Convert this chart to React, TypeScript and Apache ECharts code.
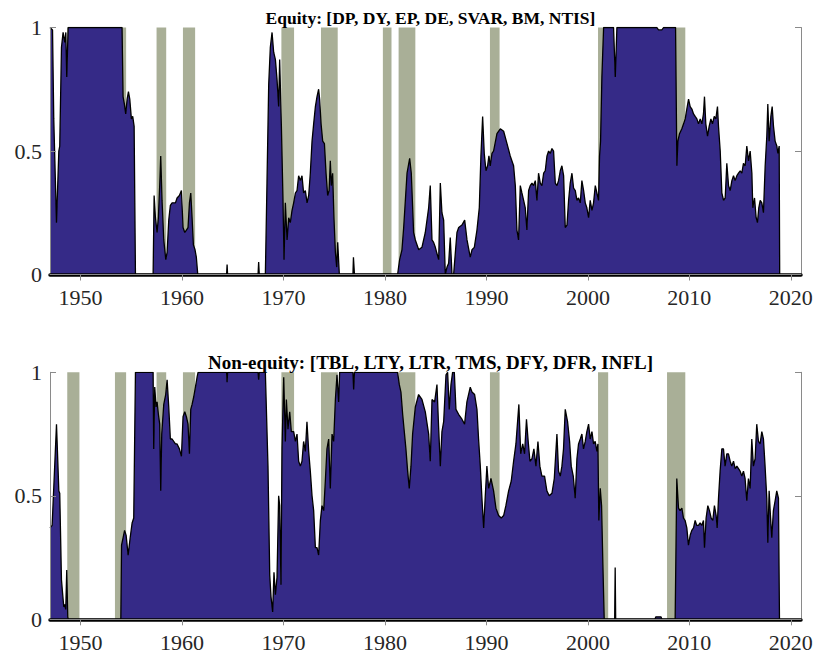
import React, { useEffect, useRef } from "react";
import * as echarts from "echarts";

// Share of predictors selected over time, equity vs non-equity groups
const equityShare: [number, number][] = [
  [1947.0, 1.0], [1947.25, 0.99], [1947.37, 0.63], [1947.64, 0.21], [1947.87, 0.5], [1947.96, 0.52],
  [1948.13, 0.92], [1948.29, 0.98], [1948.46, 0.94], [1948.56, 0.98], [1948.65, 0.8], [1948.79, 1.0],
  [1954.1, 1.0], [1954.2, 0.72], [1954.33, 0.69], [1954.46, 0.65], [1954.6, 0.71], [1954.73, 0.74],
  [1954.86, 0.71], [1955.02, 0.63], [1955.15, 0.64], [1955.29, 0.6], [1955.42, 0.0], [1957.16, 0.0],
  [1957.26, 0.32], [1957.39, 0.23], [1957.55, 0.17], [1957.68, 0.23], [1957.81, 0.36], [1957.91, 0.48],
  [1958.04, 0.3], [1958.21, 0.14], [1958.41, 0.06], [1958.54, 0.09], [1958.7, 0.22], [1958.86, 0.28],
  [1959.03, 0.29], [1959.36, 0.29], [1959.52, 0.31], [1959.75, 0.32], [1959.95, 0.34], [1960.11, 0.19],
  [1960.28, 0.17], [1960.44, 0.18], [1960.6, 0.19], [1960.74, 0.29], [1960.87, 0.33], [1961.0, 0.23],
  [1961.13, 0.12], [1961.29, 0.1], [1961.42, 0.07], [1961.56, 0.0], [1964.4, 0.0], [1964.45, 0.04],
  [1964.5, 0.0], [1967.5, 0.0], [1967.56, 0.05], [1967.62, 0.0], [1968.22, 0.0], [1968.38, 0.37],
  [1968.55, 0.77], [1968.71, 0.92], [1968.88, 0.98], [1969.04, 0.9], [1969.21, 0.87], [1969.37, 0.79],
  [1969.53, 0.68], [1969.63, 0.87], [1969.8, 0.6], [1969.96, 0.3], [1970.06, 0.06], [1970.19, 0.29],
  [1970.36, 0.14], [1970.52, 0.23], [1970.68, 0.21], [1970.85, 0.26], [1971.01, 0.29], [1971.18, 0.33],
  [1971.34, 0.34], [1971.5, 0.4], [1971.67, 0.38], [1971.83, 0.4], [1971.99, 0.33], [1972.16, 0.34],
  [1972.33, 0.29], [1972.49, 0.32], [1972.65, 0.41], [1972.82, 0.54], [1972.98, 0.61], [1973.15, 0.68],
  [1973.31, 0.72], [1973.47, 0.75], [1973.57, 0.71], [1973.71, 0.61], [1973.87, 0.54], [1974.04, 0.53],
  [1974.2, 0.41], [1974.36, 0.32], [1974.5, 0.34], [1974.62, 0.46], [1974.72, 0.36], [1974.85, 0.41],
  [1974.98, 0.23], [1975.12, 0.09], [1975.25, 0.03], [1975.35, 0.13], [1975.51, 0.0], [1976.85, 0.0],
  [1976.9, 0.07], [1977.0, 0.0], [1981.25, 0.0], [1981.45, 0.06], [1981.68, 0.1], [1981.85, 0.19],
  [1982.18, 0.41], [1982.44, 0.47], [1982.6, 0.41], [1982.83, 0.17], [1983.0, 0.14], [1983.33, 0.1],
  [1983.65, 0.11], [1983.98, 0.17], [1984.31, 0.27], [1984.47, 0.36], [1984.64, 0.14], [1984.8, 0.13],
  [1984.97, 0.11], [1985.13, 0.085], [1985.3, 0.06], [1985.46, 0.37], [1985.62, 0.25], [1985.79, 0.22],
  [1985.95, 0.0], [1986.12, 0.03], [1986.28, 0.045], [1986.44, 0.15], [1986.61, 0.0], [1986.77, 0.0],
  [1987.1, 0.17], [1987.27, 0.19], [1987.59, 0.2], [1987.86, 0.22], [1988.09, 0.14], [1988.41, 0.07],
  [1988.58, 0.1], [1988.81, 0.11], [1989.07, 0.18], [1989.3, 0.27], [1989.46, 0.48], [1989.63, 0.64],
  [1989.79, 0.49], [1989.96, 0.42], [1990.12, 0.44], [1990.25, 0.48], [1990.38, 0.44], [1990.55, 0.49],
  [1990.71, 0.5], [1991.04, 0.57], [1991.37, 0.59], [1991.7, 0.58], [1992.03, 0.53], [1992.35, 0.48],
  [1992.68, 0.44], [1992.85, 0.36], [1993.01, 0.18], [1993.17, 0.14], [1993.34, 0.36], [1993.5, 0.33],
  [1993.67, 0.3], [1993.83, 0.27], [1993.99, 0.18], [1994.16, 0.34], [1994.32, 0.36], [1994.49, 0.37],
  [1994.65, 0.36], [1994.82, 0.38], [1994.98, 0.3], [1995.14, 0.41], [1995.31, 0.37], [1995.47, 0.36],
  [1995.64, 0.41], [1995.8, 0.42], [1995.97, 0.48], [1996.13, 0.5], [1996.29, 0.49], [1996.46, 0.51],
  [1996.62, 0.5], [1996.79, 0.37], [1996.95, 0.36], [1997.11, 0.38], [1997.28, 0.42], [1997.44, 0.44],
  [1997.61, 0.4], [1997.77, 0.19], [1997.94, 0.2], [1998.1, 0.3], [1998.26, 0.37], [1998.43, 0.41],
  [1998.59, 0.35], [1998.76, 0.34], [1998.92, 0.3], [1999.08, 0.31], [1999.25, 0.29], [1999.41, 0.38],
  [1999.58, 0.34], [1999.74, 0.29], [1999.9, 0.27], [2000.07, 0.23], [2000.23, 0.3], [2000.4, 0.26],
  [2000.56, 0.29], [2000.73, 0.36], [2000.89, 0.33], [2001.05, 0.3], [2001.15, 0.48], [2001.25, 0.54],
  [2001.38, 0.8], [2001.55, 1.0], [2002.53, 1.0], [2002.7, 0.8], [2002.86, 1.0], [2006.8, 1.0],
  [2006.96, 0.99], [2007.29, 0.99], [2007.46, 1.0], [2008.64, 1.0], [2008.77, 0.44], [2008.87, 0.54],
  [2009.03, 0.57], [2009.26, 0.59], [2009.43, 0.61], [2009.59, 0.63], [2009.75, 0.67], [2009.92, 0.71],
  [2010.08, 0.68], [2010.25, 0.67], [2010.41, 0.65], [2010.57, 0.64], [2010.74, 0.63], [2010.9, 0.61],
  [2011.07, 0.63], [2011.23, 0.61], [2011.39, 0.65], [2011.49, 0.72], [2011.62, 0.61], [2011.79, 0.56],
  [2011.95, 0.6], [2012.12, 0.63], [2012.28, 0.61], [2012.45, 0.64], [2012.61, 0.63], [2012.77, 0.68],
  [2012.87, 0.6], [2013.04, 0.5], [2013.2, 0.33], [2013.37, 0.3], [2013.53, 0.31], [2013.69, 0.45],
  [2013.86, 0.36], [2014.02, 0.34], [2014.19, 0.38], [2014.35, 0.4], [2014.51, 0.38], [2014.68, 0.4],
  [2014.84, 0.41], [2015.01, 0.42], [2015.17, 0.41], [2015.33, 0.45], [2015.5, 0.44], [2015.66, 0.52],
  [2015.83, 0.46], [2015.99, 0.5], [2016.16, 0.41], [2016.25, 0.27], [2016.42, 0.31], [2016.58, 0.23],
  [2016.71, 0.21], [2016.84, 0.27], [2016.98, 0.3], [2017.14, 0.29], [2017.3, 0.25], [2017.47, 0.44],
  [2017.63, 0.56], [2017.73, 0.69], [2017.86, 0.54], [2018.03, 0.64], [2018.16, 0.68], [2018.29, 0.6],
  [2018.45, 0.54], [2018.62, 0.52], [2018.72, 0.49], [2018.85, 0.52], [2018.9, 0.0],
];

const nonEquityShare: [number, number][] = [
  [1947.0, 0.37], [1947.21, 0.38], [1947.64, 0.79], [1947.87, 0.52], [1947.96, 0.51], [1948.13, 0.16],
  [1948.23, 0.11], [1948.36, 0.05], [1948.46, 0.06], [1948.55, 0.04], [1948.65, 0.2], [1948.75, 0.01],
  [1948.8, 0.0], [1953.98, 0.0], [1954.05, 0.3], [1954.2, 0.33], [1954.35, 0.36], [1954.5, 0.34],
  [1954.7, 0.26], [1954.9, 0.33], [1955.09, 0.39], [1955.25, 0.41], [1955.42, 1.0], [1957.16, 1.0],
  [1957.22, 0.69], [1957.32, 0.94], [1957.45, 0.86], [1957.55, 0.88], [1957.68, 0.83], [1957.81, 0.79],
  [1957.91, 0.52], [1958.01, 0.75], [1958.21, 0.87], [1958.4, 0.91], [1958.54, 0.97], [1958.7, 0.86],
  [1958.86, 0.73], [1959.03, 0.73], [1959.36, 0.71], [1959.52, 0.71], [1959.75, 0.69], [1959.95, 0.66],
  [1960.11, 0.82], [1960.28, 0.84], [1960.44, 0.82], [1960.6, 0.79], [1960.74, 0.67], [1960.87, 0.85],
  [1961.0, 0.87], [1961.16, 0.9], [1961.33, 0.94], [1961.49, 0.98], [1961.59, 1.0], [1964.4, 1.0],
  [1964.45, 0.96], [1964.5, 1.0], [1967.5, 1.0], [1967.56, 0.97], [1967.62, 1.0], [1968.22, 1.0],
  [1968.48, 0.62], [1968.65, 0.18], [1968.78, 0.09], [1968.94, 0.03], [1969.07, 0.19], [1969.21, 0.1],
  [1969.37, 0.17], [1969.53, 0.5], [1969.63, 0.46], [1969.76, 0.14], [1969.86, 0.69], [1970.03, 0.98],
  [1970.19, 0.72], [1970.29, 0.89], [1970.45, 0.77], [1970.62, 0.84], [1970.78, 0.76], [1971.01, 0.76],
  [1971.18, 0.72], [1971.34, 0.75], [1971.5, 0.64], [1971.67, 0.62], [1971.83, 0.64], [1971.99, 0.72],
  [1972.16, 0.68], [1972.32, 0.8], [1972.49, 0.68], [1972.65, 0.6], [1972.82, 0.5], [1972.98, 0.44],
  [1973.15, 0.29], [1973.31, 0.29], [1973.47, 0.26], [1973.64, 0.4], [1973.8, 0.46], [1973.97, 0.44],
  [1974.13, 0.56], [1974.29, 0.69], [1974.46, 0.73], [1974.62, 0.53], [1974.79, 0.75], [1974.95, 0.72],
  [1975.12, 0.89], [1975.28, 0.99], [1975.44, 0.88], [1975.54, 1.0], [1976.85, 1.0], [1976.92, 0.93],
  [1977.0, 1.0], [1981.25, 1.0], [1981.42, 0.95], [1981.58, 0.92], [1981.75, 0.83], [1981.91, 0.76],
  [1982.07, 0.69], [1982.24, 0.6], [1982.4, 0.53], [1982.57, 0.62], [1982.73, 0.75], [1983.0, 0.86],
  [1983.32, 0.91], [1983.65, 0.89], [1983.98, 0.84], [1984.31, 0.75], [1984.47, 0.64], [1984.64, 0.89],
  [1984.9, 0.88], [1985.13, 0.95], [1985.29, 0.78], [1985.46, 0.62], [1985.62, 0.76], [1985.79, 0.8],
  [1986.02, 0.99], [1986.18, 1.0], [1986.34, 0.85], [1986.51, 0.95], [1986.67, 1.0], [1986.84, 1.0],
  [1987.0, 0.85], [1987.26, 0.83], [1987.59, 0.81], [1987.85, 0.79], [1988.08, 0.88], [1988.41, 0.94],
  [1988.58, 0.92], [1988.84, 0.91], [1989.07, 0.85], [1989.23, 0.73], [1989.4, 0.62], [1989.56, 0.49],
  [1989.73, 0.37], [1989.89, 0.5], [1990.05, 0.62], [1990.22, 0.53], [1990.45, 0.57], [1990.71, 0.52],
  [1990.94, 0.45], [1991.2, 0.42], [1991.47, 0.41], [1991.7, 0.42], [1991.92, 0.46], [1992.19, 0.52],
  [1992.45, 0.56], [1992.68, 0.64], [1992.91, 0.71], [1993.2, 0.87], [1993.38, 0.67], [1993.58, 0.71],
  [1993.76, 0.67], [1993.95, 0.81], [1994.12, 0.72], [1994.29, 0.64], [1994.49, 0.65], [1994.68, 0.69],
  [1994.88, 0.62], [1995.08, 0.72], [1995.27, 0.62], [1995.47, 0.58], [1995.73, 0.58], [1995.96, 0.52],
  [1996.19, 0.5], [1996.46, 0.51], [1996.69, 0.57], [1996.95, 0.75], [1997.11, 0.6], [1997.28, 0.58],
  [1997.44, 0.62], [1997.6, 0.69], [1997.77, 0.85], [1998.0, 0.8], [1998.2, 0.72], [1998.36, 0.62],
  [1998.56, 0.58], [1998.75, 0.49], [1998.92, 0.65], [1999.08, 0.71], [1999.25, 0.73], [1999.41, 0.75],
  [1999.57, 0.69], [1999.74, 0.72], [1999.9, 0.76], [2000.07, 0.79], [2000.23, 0.73], [2000.4, 0.76],
  [2000.56, 0.71], [2000.72, 0.72], [2000.89, 0.68], [2000.99, 0.71], [2001.08, 0.4], [2001.22, 0.53],
  [2001.35, 0.46], [2001.48, 0.22], [2001.61, 0.0], [2002.64, 0.0], [2002.69, 0.21], [2002.74, 0.0],
  [2006.6, 0.0], [2006.7, 0.01], [2007.2, 0.01], [2007.3, 0.0], [2008.6, 0.0], [2008.76, 0.57],
  [2008.93, 0.45], [2009.09, 0.44], [2009.26, 0.45], [2009.42, 0.41], [2009.58, 0.4], [2009.75, 0.37],
  [2009.91, 0.3], [2010.08, 0.34], [2010.24, 0.36], [2010.41, 0.37], [2010.57, 0.4], [2010.73, 0.38],
  [2010.9, 0.38], [2011.06, 0.39], [2011.23, 0.38], [2011.39, 0.4], [2011.49, 0.29], [2011.65, 0.41],
  [2011.82, 0.46], [2011.98, 0.44], [2012.15, 0.41], [2012.31, 0.4], [2012.47, 0.46], [2012.64, 0.42],
  [2012.74, 0.37], [2012.87, 0.49], [2013.03, 0.6], [2013.2, 0.69], [2013.36, 0.69], [2013.52, 0.62],
  [2013.69, 0.67], [2013.85, 0.67], [2014.02, 0.64], [2014.18, 0.62], [2014.35, 0.64], [2014.51, 0.61],
  [2014.68, 0.62], [2014.84, 0.61], [2015.0, 0.6], [2015.17, 0.58], [2015.33, 0.6], [2015.49, 0.57],
  [2015.66, 0.48], [2015.82, 0.57], [2015.99, 0.53], [2016.15, 0.73], [2016.31, 0.62], [2016.48, 0.65],
  [2016.64, 0.79], [2016.81, 0.72], [2016.97, 0.71], [2017.14, 0.76], [2017.3, 0.73], [2017.46, 0.62],
  [2017.63, 0.49], [2017.73, 0.31], [2017.86, 0.52], [2017.96, 0.44], [2018.12, 0.33], [2018.28, 0.44],
  [2018.45, 0.48], [2018.61, 0.52], [2018.78, 0.49], [2018.88, 0.0],
];

// NBER recession shading (start, end)
const recessionStarts = [1948.7, 1953.4, 1957.5, 1960.1, 1969.8, 1973.7, 1979.8, 1981.35, 1990.35, 2001.0, 2007.8];
const recessionEnds = [1949.9, 1954.5, 1958.45, 1961.3, 1971.05, 1975.35, 1980.65, 1983.0, 1991.3, 2002.0, 2009.6];

const xTicks = [1950, 1960, 1970, 1980, 1990, 2000, 2010, 2020];
const panelTitles = [
  "Equity: [DP, DY, EP, DE, SVAR, BM, NTIS]",
  "Non-equity: [TBL, LTY, LTR, TMS, DFY, DFR, INFL]",
];

const AREA_COLOR = "#352a87";
const BAND_COLOR = "#a9af97";
const FRAME_COLOR = "#8a8a8a";
const SERIF = "'Liberation Serif', 'Times New Roman', serif";

export default function App() {
  const ref = useRef<HTMLDivElement>(null);

  useEffect(() => {
    if (!ref.current) return;
    const chart = echarts.init(ref.current, undefined, { renderer: "svg" });

    const gridTops = [27.5, 372.3];
    const gridHeight = 247;
    const bands = recessionStarts.map((s, i) => [{ xAxis: s }, { xAxis: recessionEnds[i] }]);
    const labelStyle = { fontFamily: SERIF, fontSize: 22, color: "#262626" };

    const xAxes: any[] = [];
    const yAxes: any[] = [];
    const series: any[] = [];

    [equityShare, nonEquityShare].forEach((values, g) => {
      // bottom axis: thick baseline with year labels
      xAxes.push({
        type: "value", gridIndex: g, position: "bottom", min: 1947, max: 2021, z: 5,
        axisLine: { show: true, lineStyle: { color: "#000", width: 3.5 } },
        axisTick: { show: false },
        splitLine: { show: false },
        axisLabel: { ...labelStyle, margin: 12, customValues: xTicks, formatter: (v: number) => String(v) },
      });
      // top axis: frame line with inward ticks
      xAxes.push({
        type: "value", gridIndex: g, position: "top", min: 1947, max: 2021, z: 5,
        axisLine: { show: true, lineStyle: { color: FRAME_COLOR, width: 1 } },
        axisTick: { show: true, inside: true, length: 6, customValues: xTicks, lineStyle: { color: FRAME_COLOR } },
        axisLabel: { show: false },
        splitLine: { show: false },
      });
      yAxes.push({
        type: "value", gridIndex: g, position: "left", min: 0, max: 1, interval: 0.5, z: 5,
        axisLine: { show: true, lineStyle: { color: FRAME_COLOR, width: 1 } },
        axisTick: { show: true, inside: true, length: 6, lineStyle: { color: FRAME_COLOR } },
        axisLabel: { ...labelStyle, margin: 8 },
        splitLine: { show: false },
      });
      yAxes.push({
        type: "value", gridIndex: g, position: "right", min: 0, max: 1, interval: 0.5, z: 5,
        axisLine: { show: true, lineStyle: { color: FRAME_COLOR, width: 1 } },
        axisTick: { show: true, inside: true, length: 6, lineStyle: { color: FRAME_COLOR } },
        axisLabel: { show: false },
        splitLine: { show: false },
      });

      series.push({
        type: "line", xAxisIndex: g * 2, yAxisIndex: g * 2, data: [], z: 1, silent: true,
        markArea: { silent: true, itemStyle: { color: BAND_COLOR }, label: { show: false }, data: bands },
      });
      series.push({
        type: "line", xAxisIndex: g * 2, yAxisIndex: g * 2, data: values, z: 3,
        showSymbol: false, symbol: "none", silent: true,
        lineStyle: { color: "#000", width: 1.3 },
        areaStyle: { color: AREA_COLOR, opacity: 1 },
      });
    });

    chart.setOption({
      animation: false,
      backgroundColor: "#fff",
      title: panelTitles.map((t, i) => ({
        text: t,
        left: 425.5,
        top: i === 0 ? 4 : 348,
        textAlign: "center",
        textStyle: { fontFamily: SERIF, fontWeight: "bold", fontSize: i === 0 ? 17.5 : 19, color: "#000" },
      })),
      grid: gridTops.map((top) => ({ left: 50, right: 13, top, height: gridHeight, outerBoundsMode: "none" })),
      xAxis: xAxes,
      yAxis: yAxes,
      series,
    });

    return () => chart.dispose();
  }, []);

  return (
    <div
      ref={ref}
      style={{ position: "absolute", left: 0, top: 0, width: 814, height: 659 }}
    />
  );
}
